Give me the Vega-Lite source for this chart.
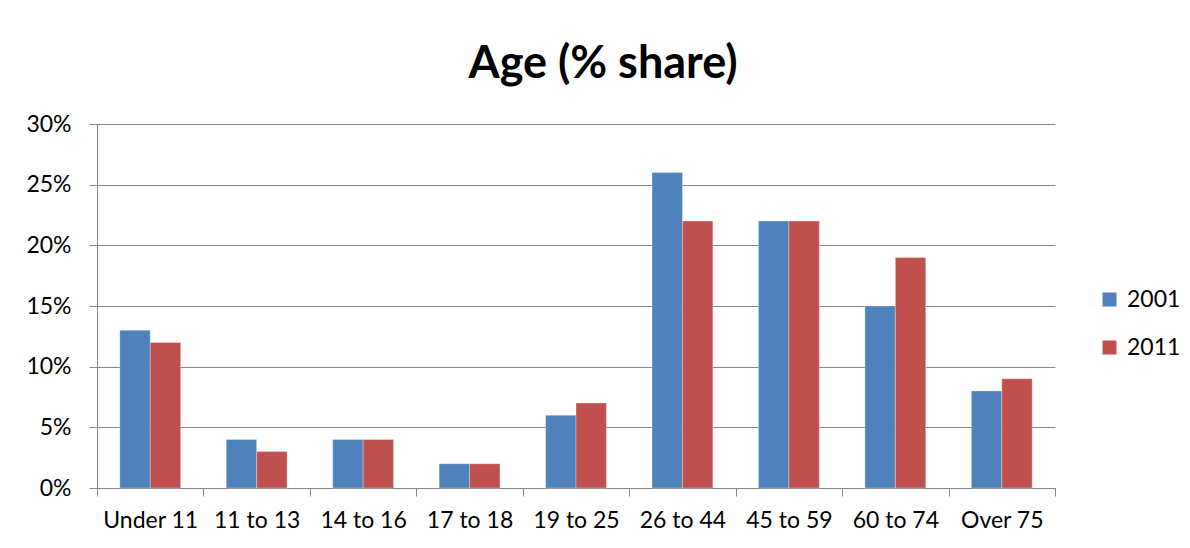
{
  "$schema": "https://vega.github.io/schema/vega-lite/v6.json",
  "autosize": "none",
  "padding": {"left": 97, "top": 124, "right": 135, "bottom": 60},
  "width": 958,
  "height": 364,
  "background": "white",
  "title": {
    "text": "Age (% share)",
    "font": "Lato",
    "fontSize": 45,
    "fontWeight": "bold",
    "color": "black",
    "anchor": "middle",
    "frame": "group",
    "dx": 27,
    "baseline": "alphabetic",
    "offset": -10
  },
  "data": {
    "values": [
      {"age": "Under 11", "year": "2001", "share": 13},
      {"age": "Under 11", "year": "2011", "share": 12},
      {"age": "11 to 13", "year": "2001", "share": 4},
      {"age": "11 to 13", "year": "2011", "share": 3},
      {"age": "14 to 16", "year": "2001", "share": 4},
      {"age": "14 to 16", "year": "2011", "share": 4},
      {"age": "17 to 18", "year": "2001", "share": 2},
      {"age": "17 to 18", "year": "2011", "share": 2},
      {"age": "19 to 25", "year": "2001", "share": 6},
      {"age": "19 to 25", "year": "2011", "share": 7},
      {"age": "26 to 44", "year": "2001", "share": 26},
      {"age": "26 to 44", "year": "2011", "share": 22},
      {"age": "45 to 59", "year": "2001", "share": 22},
      {"age": "45 to 59", "year": "2011", "share": 22},
      {"age": "60 to 74", "year": "2001", "share": 15},
      {"age": "60 to 74", "year": "2011", "share": 19},
      {"age": "Over 75", "year": "2001", "share": 8},
      {"age": "Over 75", "year": "2011", "share": 9}
    ]
  },
  "mark": {"type": "bar", "stroke": "white", "strokeWidth": 0.5, "strokeOpacity": 0.6},
  "encoding": {
    "x": {
      "field": "age",
      "type": "nominal",
      "sort": null,
      "title": null,
      "scale": {"paddingInner": 0, "paddingOuter": 0},
      "axis": {
        "labelAngle": 0,
        "labelFont": "Lato",
        "labelFontSize": 23,
        "labelColor": "black",
        "labelPadding": 13,
        "tickBand": "extent",
        "tickSize": 8,
        "tickColor": "#868686",
        "domainColor": "#868686",
        "domainWidth": 1,
        "grid": false
      }
    },
    "xOffset": {"field": "year", "type": "nominal", "sort": null, "scale": {"paddingInner": 0, "paddingOuter": 0.75}},
    "y": {
      "field": "share",
      "type": "quantitative",
      "title": null,
      "scale": {"domain": [0, 30], "nice": false},
      "axis": {
        "values": [0, 5, 10, 15, 20, 25, 30],
        "labelExpr": "datum.value + '%'",
        "labelFont": "Lato",
        "labelFontSize": 23,
        "labelColor": "black",
        "labelPadding": 18,
        "tickSize": 8,
        "tickColor": "#868686",
        "domainColor": "#868686",
        "gridColor": "#868686",
        "gridWidth": 1,
        "grid": true
      }
    },
    "color": {
      "field": "year",
      "type": "nominal",
      "title": null,
      "scale": {"domain": ["2001", "2011"], "range": ["#4F81BD", "#C0504D"]},
      "legend": {
        "orient": "none",
        "legendX": 1001,
        "legendY": 164,
        "symbolType": "square",
        "symbolSize": 196,
        "symbolStrokeWidth": 0,
        "labelFont": "Lato",
        "labelFontSize": 23,
        "labelColor": "black",
        "labelOffset": 6,
        "rowPadding": 24
      }
    }
  },
  "config": {
    "view": {"stroke": null},
    "axis": {"domainCap": "square"}
  }
}
